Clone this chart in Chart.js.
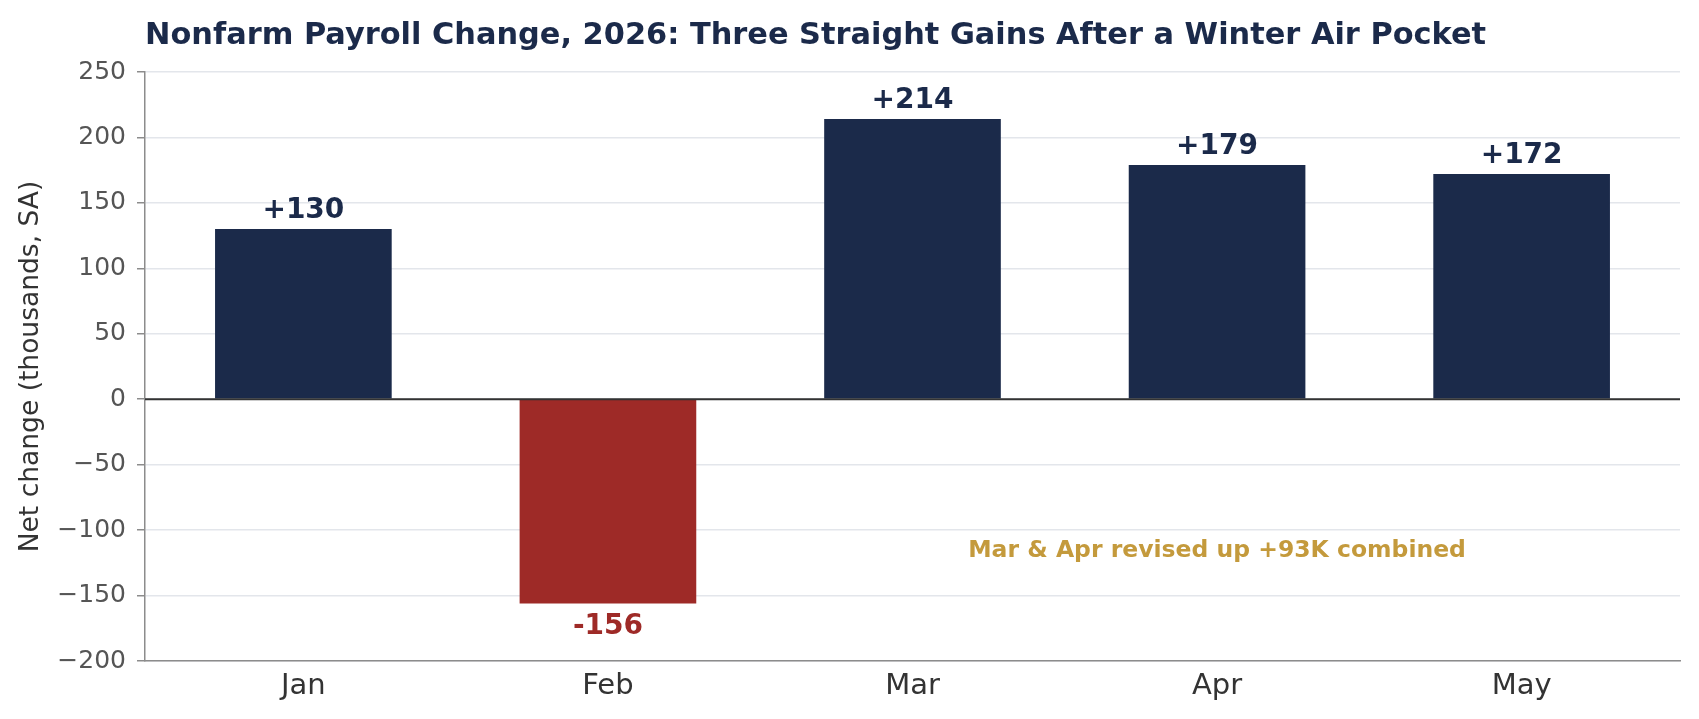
<!DOCTYPE html>
<html>
<head>
<meta charset="utf-8">
<script src="https://cdn.jsdelivr.net/npm/chart.js@4.4.1/dist/chart.umd.min.js"></script>
<style>
  html, body { margin: 0; padding: 0; background: #fff; }
  #wrap { width: 1699px; height: 719px; position: relative; }
</style>
</head>
<body>
<div id="wrap"><canvas id="payrolls"></canvas></div>
<script>
// ---- Data ----
const months = ['Jan', 'Feb', 'Mar', 'Apr', 'May'];
const payrollChange = [130, -156, 214, 179, 172];
const yTicks = [-200, -150, -100, -50, 0, 50, 100, 150, 200, 250];
const noteText = 'Mar & Apr revised up +93K combined';
const notePos = { month: 'Apr', value: -116 };

const NAVY = '#1b2a4a';
const RED = '#9e2a27';
const GOLD = '#c49a3c';
const FONT = "'DejaVu Sans', sans-serif";

// Title, zero line, value labels and annotation
const overlay = {
  id: 'overlay',
  afterDatasetsDraw(chart) {
    const { ctx, chartArea, scales } = chart;
    const x = scales.x, y = scales.y;
    ctx.save();

    // zero line on top of bars
    const y0 = y.getPixelForValue(0);
    ctx.strokeStyle = '#333333';
    ctx.lineWidth = 2;
    ctx.beginPath();
    ctx.moveTo(chartArea.left, y0);
    ctx.lineTo(chartArea.right, y0);
    ctx.stroke();

    // value labels
    ctx.font = 'bold 28px ' + FONT;
    ctx.textAlign = 'center';
    ctx.textBaseline = 'middle';
    const meta = chart.getDatasetMeta(0);
    meta.data.forEach((bar, i) => {
      const v = payrollChange[i];
      const txt = (v > 0 ? '+' : '') + v;
      ctx.fillStyle = v >= 0 ? NAVY : RED;
      const ty = v >= 0 ? bar.y - 18 : bar.y + 23;
      ctx.fillText(txt, bar.x, ty);
    });

    // annotation
    ctx.font = 'bold 23.5px ' + FONT;
    ctx.fillStyle = GOLD;
    ctx.fillText(noteText, x.getPixelForValue(months.indexOf(notePos.month)), y.getPixelForValue(notePos.value));

    // title
    ctx.font = 'bold 30.4px ' + FONT;
    ctx.fillStyle = NAVY;
    ctx.textAlign = 'left';
    ctx.textBaseline = 'alphabetic';
    ctx.fillText('Nonfarm Payroll Change, 2026: Three Straight Gains After a Winter Air Pocket', chartArea.left, 44);

    ctx.restore();
  }
};

new Chart(document.getElementById('payrolls'), {
  type: 'bar',
  data: {
    datasets: [{
      data: payrollChange.map((v, i) => ({ x: i, y: v })),
      backgroundColor: payrollChange.map(v => v >= 0 ? NAVY : RED),
      borderWidth: 0,
      barPercentage: 0.58,
      categoryPercentage: 1
    }]
  },
  options: {
    responsive: true,
    maintainAspectRatio: false,
    animation: false,
    layout: { padding: { top: 72, right: 19, bottom: 0, left: 0 } },
    plugins: {
      legend: { display: false },
      tooltip: { enabled: false }
    },
    scales: {
      x: {
        type: 'linear',
        min: -0.52,
        max: months.length - 1 + 0.52,
        offset: false,
        afterBuildTicks(scale) { scale.ticks = months.map((m, i) => ({ value: i })); },
        grid: { display: false, drawTicks: false },
        border: { display: true, color: '#8c8c8c', width: 1.5 },
        ticks: {
          padding: 8,
          color: '#333333',
          font: { family: FONT, size: 29 },
          callback: v => months[v]
        },
        afterFit(scale) { scale.height = 58; }
      },
      y: {
        min: -200,
        max: 250,
        afterBuildTicks(scale) { scale.ticks = yTicks.map(v => ({ value: v })); },
        grid: {
          color: '#e3e6eb',
          lineWidth: 1.5,
          tickColor: '#8c8c8c',
          tickLength: 8,
          drawTicks: true
        },
        border: { display: true, color: '#8c8c8c', width: 1.5 },
        ticks: {
          padding: 11,
          color: '#555555',
          font: { family: FONT, size: 25 },
          callback: v => String(v).replace('-', '\u2212')
        },
        title: {
          display: true,
          text: 'Net change (thousands, SA)',
          color: '#333333',
          font: { family: FONT, size: 26.5 },
          padding: { top: 15, bottom: 0 }
        },
        afterFit(scale) { scale.width = 145; }
      }
    }
  },
  plugins: [overlay]
});
</script>
</body>
</html>
